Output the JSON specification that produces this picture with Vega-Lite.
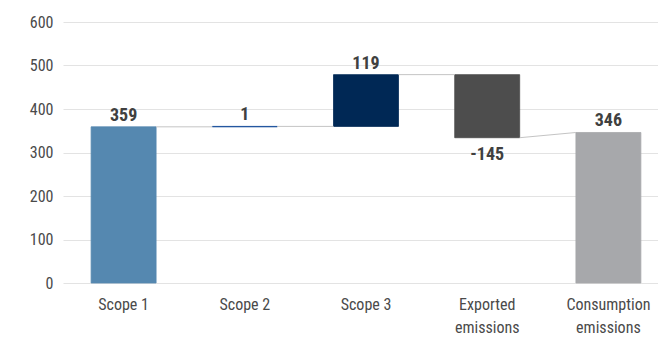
{
  "$schema": "https://vega.github.io/schema/vega-lite/v6.json",
  "width": 606,
  "height": 261,
  "autosize": "none",
  "padding": {"left": 63, "top": 22, "right": 0, "bottom": 57},
  "background": "white",
  "config": {
    "view": {"stroke": null},
    "font": "Roboto Condensed, DejaVu Sans Condensed, Roboto, sans-serif",
    "axis": {"labelFont": "Roboto Condensed, DejaVu Sans Condensed, Roboto, sans-serif", "labelColor": "#4a4a4a", "labelFontSize": 16}
  },
  "datasets": {
    "bars": [
      {"category": "Scope 1", "start": 0, "end": 359, "value": "359", "labelAt": 359, "pos": "top", "color": "#5588b0"},
      {"category": "Scope 2", "start": 359, "end": 360, "value": "1", "labelAt": 360, "pos": "top", "color": "#0d4596"},
      {"category": "Scope 3", "start": 360, "end": 479, "value": "119", "labelAt": 479, "pos": "top", "color": "#002855"},
      {"category": "Exported emissions", "start": 479, "end": 334, "value": "-145", "labelAt": 334, "pos": "bottom", "color": "#4d4d4d"},
      {"category": "Consumption emissions", "start": 0, "end": 346, "value": "346", "labelAt": 346, "pos": "top", "color": "#a7a8ab"}
    ],
    "links": [
      {"from": "Scope 1", "to": "Scope 2", "y1": 359, "y2": 359},
      {"from": "Scope 2", "to": "Scope 3", "y1": 360, "y2": 360},
      {"from": "Scope 3", "to": "Exported emissions", "y1": 479, "y2": 479},
      {"from": "Exported emissions", "to": "Consumption emissions", "y1": 334, "y2": 346}
    ]
  },
  "layer": [
    {
      "data": {"name": "bars"},
      "mark": {"type": "bar", "strokeWidth": 0.8},
      "encoding": {
        "x": {
          "field": "category", "type": "nominal", "sort": null, "title": null,
          "scale": {"domain": ["Scope 1", "Scope 2", "Scope 3", "Exported emissions", "Consumption emissions"], "paddingInner": 0.464, "paddingOuter": 0.232},
          "axis": {"labelAngle": 0, "ticks": false, "domain": false, "labelPadding": 13, "labelLineHeight": 23, "bandPosition": 0.5,
                   "labelExpr": "indexof(datum.label, 'emissions') > 0 ? split(datum.label, ' ') : datum.label"}
        },
        "y": {
          "field": "start", "type": "quantitative", "title": null,
          "scale": {"domain": [0, 600], "nice": false},
          "axis": {"values": [0, 100, 200, 300, 400, 500, 600], "ticks": false, "domain": false, "labelPadding": 10, "gridColor": "#e3e3e3", "gridWidth": 1}
        },
        "y2": {"field": "end"},
        "color": {"field": "color", "type": "nominal", "scale": null},
        "stroke": {"field": "color", "type": "nominal", "scale": null}
      }
    },
    {
      "data": {"name": "links"},
      "mark": {"type": "rule", "color": "#c4c4c4", "strokeWidth": 1},
      "encoding": {
        "x": {"field": "from", "type": "nominal", "bandPosition": 1, "sort": null},
        "x2": {"field": "to", "bandPosition": 0},
        "y": {"field": "y1", "type": "quantitative"},
        "y2": {"field": "y2"}
      }
    },
    {
      "data": {"name": "bars"},
      "mark": {"type": "text", "fontWeight": "bold", "fontSize": 18, "color": "#404040", "baseline": "bottom", "dy": -2},
      "transform": [{"filter": "datum.pos == 'top'"}],
      "encoding": {
        "x": {"field": "category", "type": "nominal", "sort": null},
        "y": {"field": "labelAt", "type": "quantitative"},
        "text": {"field": "value"}
      }
    },
    {
      "data": {"name": "bars"},
      "mark": {"type": "text", "fontWeight": "bold", "fontSize": 18, "color": "#404040", "baseline": "top", "dy": 8},
      "transform": [{"filter": "datum.pos == 'bottom'"}],
      "encoding": {
        "x": {"field": "category", "type": "nominal", "sort": null},
        "y": {"field": "labelAt", "type": "quantitative"},
        "text": {"field": "value"}
      }
    }
  ]
}
